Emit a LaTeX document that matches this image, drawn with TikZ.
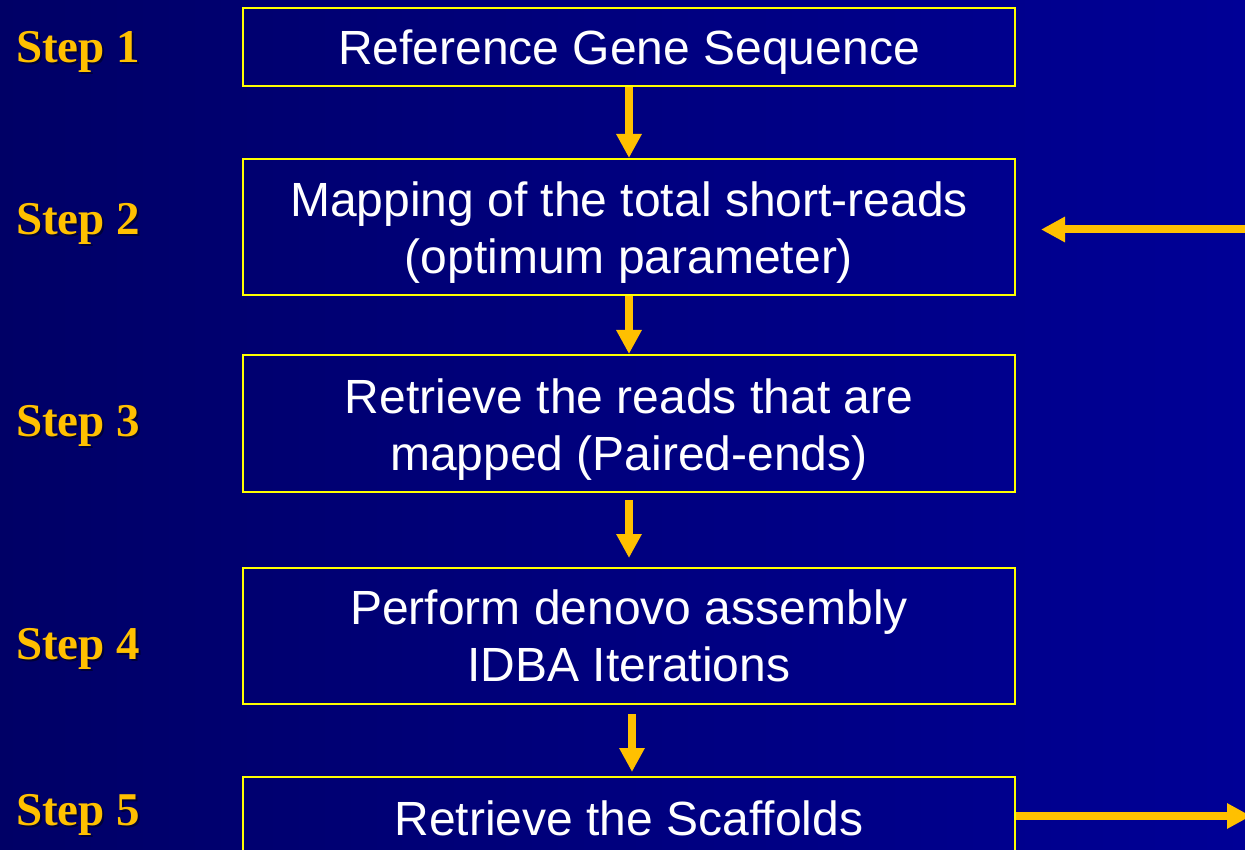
\documentclass[tikz,border=0pt]{standalone}
\usepackage{fontspec}
\setmainfont{Liberation Serif}
\newfontfamily\boxfont{Liberation Sans}
\usetikzlibrary{arrows.meta}
\definecolor{bgleft}{RGB}{0,0,102}
\definecolor{bgright}{RGB}{0,0,150}
\definecolor{amber}{RGB}{255,192,0}
\definecolor{boxyellow}{RGB}{255,255,0}
\tikzset{
  stepbox/.style={draw=boxyellow, line width=2pt, minimum width=772pt, inner sep=0pt},
  boxtext/.style={inner sep=0pt, align=center, text=white,
    font=\boxfont\fontsize{48}{57}\selectfont},
  flowarrow/.style={draw=amber, line width=8pt,
    -{Triangle[width=24pt,length=24pt]}},
  steplabel/.style={anchor=base west, inner sep=0pt, text=amber,
    font=\bfseries\fontsize{47}{50}\selectfont},
  stepshadow/.style={anchor=base west, inner sep=0pt, text=black, opacity=0.45,
    font=\bfseries\fontsize{47}{50}\selectfont}
}
\begin{document}
\begin{tikzpicture}[x=1pt,y=-1pt]
\shade[left color=bgleft, right color=bgright] (0,0) rectangle (1245,850);
\useasboundingbox (0,0) rectangle (1245,850);

\node[stepbox, minimum height=78pt]  (b1) at (629,47)    {};
\node[stepbox, minimum height=136pt] (b2) at (629,227)   {};
\node[stepbox, minimum height=137pt] (b3) at (629,423.5) {};
\node[stepbox, minimum height=136pt] (b4) at (629,636)   {};
\node[stepbox, minimum height=82pt]  (b5) at (629,818)   {};

\node[boxtext] (t1) at (629,53.6)  {\strut Reference Gene Sequence};
\node[boxtext] (t2) at (629,234)   {\strut Mapping of the total short-reads\\\strut(optimum parameter)};
\node[boxtext] (t3) at (629,431)   {\strut Retrieve the reads that are\\\strut mapped (Paired-ends)};
\node[boxtext] (t4) at (629,642)   {\strut Perform denovo assembly\\\strut IDBA Iterations};
\node[boxtext] (t5) at (629,823.6) {\strut Retrieve the Scaffolds};

\foreach \n/\y in {1/63,2/235,3/436,4/659,5/825}{
  \node[stepshadow] (s\n sh) at (18,\y+2) {Step \n};
  \node[steplabel] (s\n) at (16,\y) {Step \n};
}

\draw[flowarrow] (b1.south) -- (b2.north);
\draw[flowarrow] (b2.south) -- (b3.north);
\draw[flowarrow, shorten <=7pt, shorten >=9pt] (b3.south) -- (b4.north);
\draw[flowarrow, shorten <=9pt, shorten >=4pt] ([xshift=3pt]b4.south) -- ([xshift=3pt]b5.north);

\coordinate (r2) at (1245,229.5);
\coordinate (r5) at (1251,816);
\draw[flowarrow, shorten >=25pt] (r2) -- (b2.east |- r2);
\draw[flowarrow] (b5.east |- r5) -- (r5);
\end{tikzpicture}
\end{document}
